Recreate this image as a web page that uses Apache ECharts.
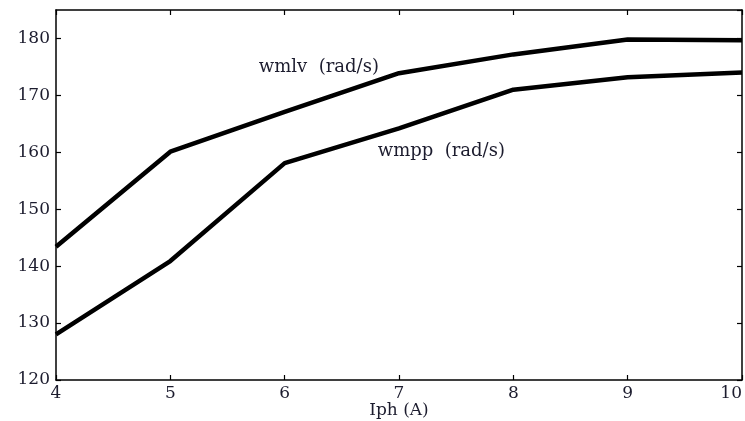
<!DOCTYPE html>
<html>
<head>
<meta charset="utf-8">
<style>
  html, body { margin: 0; padding: 0; background: #fff; }
  #chart { width: 745px; height: 421px; }
</style>
<script src="https://cdn.jsdelivr.net/npm/echarts@6/dist/echarts.min.js"></script>
</head>
<body>
<div id="chart"></div>
<script>
// Phase current (A) on the x axis
const iph = [4, 5, 6, 7, 8, 9, 10];
// Speed curves (rad/s)
const wmlv = [143.4, 160.1, 167.1, 173.9, 177.2, 179.8, 179.7];
const wmpp = [128.0, 140.9, 158.1, 164.2, 171.0, 173.2, 174.0];
// Curve captions and where they sit in data space
const captions = ['wmlv  (rad/s)', 'wmpp  (rad/s)'];
const captionAt = [[5.77, 174.9], [6.81, 160.2]];
const xTitle = 'Iph (A)';

const FONT = 'DejaVu Serif';
const TEXT = '#1c1c2e';

const chart = echarts.init(document.getElementById('chart'), null, { renderer: 'canvas' });

const boxLine = { show: true, onZero: false, lineStyle: { color: '#000', width: 1.5 } };
const inTick = { show: true, inside: true, length: 5, lineStyle: { color: '#000', width: 1.2 } };

function pairs(ys) { return iph.map((x, i) => [x, ys[i]]); }

function caption(i) {
  return {
    symbol: 'rect',
    symbolSize: 1,
    itemStyle: { color: 'rgba(0,0,0,0)' },
    data: [{
      coord: captionAt[i],
      label: {
        show: true, position: 'right', distance: 0,
        formatter: captions[i],
        fontFamily: FONT, fontSize: 18, color: TEXT
      }
    }]
  };
}

chart.setOption({
  animation: false,
  backgroundColor: '#fff',
  grid: { left: 56, right: 3, top: 10, bottom: 41, containLabel: false, outerBoundsMode: 'none' },
  xAxis: [
    {
      type: 'value', min: 4, max: 10, interval: 1, position: 'bottom',
      axisLine: boxLine, axisTick: inTick, splitLine: { show: false },
      axisLabel: {
        fontFamily: FONT, fontSize: 17, color: TEXT, margin: 5,
        alignMaxLabel: 'right'
      },
      name: xTitle, nameLocation: 'middle', nameGap: 22, nameMoveOverlap: false,
      nameTextStyle: { fontFamily: FONT, fontSize: 17, color: TEXT }
    },
    {
      type: 'value', min: 4, max: 10, interval: 1, position: 'top',
      axisLine: boxLine, axisTick: inTick, splitLine: { show: false },
      axisLabel: { show: false }
    }
  ],
  yAxis: [
    {
      type: 'value', min: 120, max: 185, interval: 10, position: 'left',
      axisLine: boxLine, axisTick: inTick, splitLine: { show: false },
      axisLabel: {
        fontFamily: FONT, fontSize: 17, color: TEXT, margin: 6,
        showMaxLabel: false
      }
    },
    {
      type: 'value', min: 120, max: 185, interval: 10, position: 'right',
      axisLine: boxLine, axisTick: inTick, splitLine: { show: false },
      axisLabel: { show: false }
    }
  ],
  series: [
    {
      name: 'wmlv', type: 'line', data: pairs(wmlv),
      showSymbol: false, symbol: 'none',
      lineStyle: { color: '#000', width: 4.5, join: 'round' },
      markPoint: caption(0)
    },
    {
      name: 'wmpp', type: 'line', data: pairs(wmpp),
      showSymbol: false, symbol: 'none',
      lineStyle: { color: '#000', width: 4.5, join: 'round' },
      markPoint: caption(1)
    }
  ]
});
</script>
</body>
</html>
